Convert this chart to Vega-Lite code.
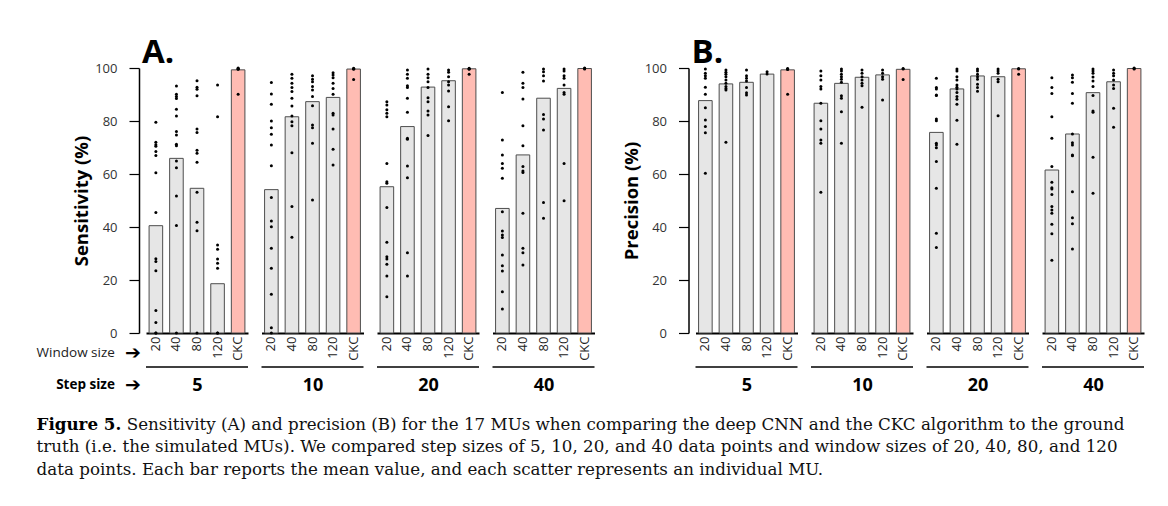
{
  "$schema": "https://vega.github.io/schema/vega-lite/v6.json",
  "background": "white",
  "padding": {"left": 36, "top": 37, "right": 5, "bottom": 5},
  "config": {
    "font": "Open Sans",
    "view": {"stroke": null},
    "axis": {"grid": false},
    "axisX": {"labelAngle": -90, "ticks": false, "domainColor": "black", "domainWidth": 2, "labelFontSize": 13, "labelColor": "#222222", "labelPadding": 3, "titleFontSize": 18, "titleFontWeight": "bold", "titleColor": "black", "titleY": 52, "titleBaseline": "middle"},
    "axisY": {"domainColor": "black", "domainWidth": 1.5, "tickColor": "black", "tickWidth": 1.2, "tickSize": 10, "labelFontSize": 13, "labelColor": "#333333", "labelPadding": 12, "titleFontSize": 18.5, "titleFontWeight": "bold", "titleColor": "black", "titlePadding": 3, "offset": 7}
  },
  "title": {
    "text": "Figure 5.",
    "subtitle": [
      "\u200b\u00a0\u00a0\u00a0\u00a0\u00a0\u00a0\u00a0\u00a0\u00a0\u00a0\u00a0\u00a0\u00a0\u00a0\u00a0\u00a0\u00a0Sensitivity (A) and precision (B) for the 17 MUs when comparing the deep CNN and the CKC algorithm to the ground",
      "truth (i.e. the simulated MUs). We compared step sizes of 5, 10, 20, and 40 data points and window sizes of 20, 40, 80, and 120",
      "data points. Each bar reports the mean value, and each scatter represents an individual MU."
    ],
    "orient": "bottom",
    "anchor": "start",
    "font": "DejaVu Serif",
    "fontSize": 16.7,
    "fontWeight": "bold",
    "color": "black",
    "subtitleFont": "DejaVu Serif",
    "subtitleFontSize": 16.7,
    "subtitleColor": "#111111",
    "subtitleLineHeight": 22.5,
    "subtitlePadding": -16.7,
    "offset": 22
  },
  "datasets": {
    "bars": [
      {"metric": "S", "step": 5, "window": "20", "value": 40.5},
      {"metric": "S", "step": 5, "window": "40", "value": 65.9},
      {"metric": "S", "step": 5, "window": "80", "value": 54.6},
      {"metric": "S", "step": 5, "window": "120", "value": 18.6},
      {"metric": "S", "step": 5, "window": "CKC", "value": 99.3},
      {"metric": "S", "step": 10, "window": "20", "value": 54.1},
      {"metric": "S", "step": 10, "window": "40", "value": 81.6},
      {"metric": "S", "step": 10, "window": "80", "value": 87.3},
      {"metric": "S", "step": 10, "window": "120", "value": 88.9},
      {"metric": "S", "step": 10, "window": "CKC", "value": 99.6},
      {"metric": "S", "step": 20, "window": "20", "value": 55.2},
      {"metric": "S", "step": 20, "window": "40", "value": 77.9},
      {"metric": "S", "step": 20, "window": "80", "value": 92.8},
      {"metric": "S", "step": 20, "window": "120", "value": 95.2},
      {"metric": "S", "step": 20, "window": "CKC", "value": 99.7},
      {"metric": "S", "step": 40, "window": "20", "value": 47.0},
      {"metric": "S", "step": 40, "window": "40", "value": 67.2},
      {"metric": "S", "step": 40, "window": "80", "value": 88.6},
      {"metric": "S", "step": 40, "window": "120", "value": 92.3},
      {"metric": "S", "step": 40, "window": "CKC", "value": 99.8},
      {"metric": "P", "step": 5, "window": "20", "value": 87.7},
      {"metric": "P", "step": 5, "window": "40", "value": 94.0},
      {"metric": "P", "step": 5, "window": "80", "value": 94.6},
      {"metric": "P", "step": 5, "window": "120", "value": 97.7},
      {"metric": "P", "step": 5, "window": "CKC", "value": 99.3},
      {"metric": "P", "step": 10, "window": "20", "value": 86.7},
      {"metric": "P", "step": 10, "window": "40", "value": 94.2},
      {"metric": "P", "step": 10, "window": "80", "value": 96.5},
      {"metric": "P", "step": 10, "window": "120", "value": 97.4},
      {"metric": "P", "step": 10, "window": "CKC", "value": 99.5},
      {"metric": "P", "step": 20, "window": "20", "value": 75.7},
      {"metric": "P", "step": 20, "window": "40", "value": 92.1},
      {"metric": "P", "step": 20, "window": "80", "value": 97.0},
      {"metric": "P", "step": 20, "window": "120", "value": 96.7},
      {"metric": "P", "step": 20, "window": "CKC", "value": 99.7},
      {"metric": "P", "step": 40, "window": "20", "value": 61.5},
      {"metric": "P", "step": 40, "window": "40", "value": 75.1},
      {"metric": "P", "step": 40, "window": "80", "value": 90.7},
      {"metric": "P", "step": 40, "window": "120", "value": 94.8},
      {"metric": "P", "step": 40, "window": "CKC", "value": 99.8}
    ],
    "pts": [
      {"metric":"S","step":5,"window":"20","value":79.5},{"metric":"S","step":5,"window":"20","value":72},{"metric":"S","step":5,"window":"20","value":71},{"metric":"S","step":5,"window":"20","value":70.5},{"metric":"S","step":5,"window":"20","value":68.5},{"metric":"S","step":5,"window":"20","value":67},{"metric":"S","step":5,"window":"20","value":60.5},{"metric":"S","step":5,"window":"20","value":45.5},{"metric":"S","step":5,"window":"20","value":28},{"metric":"S","step":5,"window":"20","value":27},{"metric":"S","step":5,"window":"20","value":23.5},{"metric":"S","step":5,"window":"20","value":8.5},{"metric":"S","step":5,"window":"20","value":4},{"metric":"S","step":5,"window":"20","value":0},{"metric":"S","step":5,"window":"20","value":0},
      {"metric":"S","step":5,"window":"40","value":93.2},{"metric":"S","step":5,"window":"40","value":90.1},{"metric":"S","step":5,"window":"40","value":89.2},{"metric":"S","step":5,"window":"40","value":88.5},{"metric":"S","step":5,"window":"40","value":84.4},{"metric":"S","step":5,"window":"40","value":81.9},{"metric":"S","step":5,"window":"40","value":76},{"metric":"S","step":5,"window":"40","value":74.7},{"metric":"S","step":5,"window":"40","value":71.2},{"metric":"S","step":5,"window":"40","value":70.7},{"metric":"S","step":5,"window":"40","value":64.9},{"metric":"S","step":5,"window":"40","value":62.4},{"metric":"S","step":5,"window":"40","value":51.7},{"metric":"S","step":5,"window":"40","value":40.6},{"metric":"S","step":5,"window":"40","value":0},
      {"metric":"S","step":5,"window":"80","value":95.2},{"metric":"S","step":5,"window":"80","value":92.7},{"metric":"S","step":5,"window":"80","value":92},{"metric":"S","step":5,"window":"80","value":89.5},{"metric":"S","step":5,"window":"80","value":77},{"metric":"S","step":5,"window":"80","value":75.7},{"metric":"S","step":5,"window":"80","value":69},{"metric":"S","step":5,"window":"80","value":67.8},{"metric":"S","step":5,"window":"80","value":64.4},{"metric":"S","step":5,"window":"80","value":53.1},{"metric":"S","step":5,"window":"80","value":41.8},{"metric":"S","step":5,"window":"80","value":38.6},{"metric":"S","step":5,"window":"80","value":0},
      {"metric":"S","step":5,"window":"120","value":93.6},{"metric":"S","step":5,"window":"120","value":81.6},{"metric":"S","step":5,"window":"120","value":33.2},{"metric":"S","step":5,"window":"120","value":31.6},{"metric":"S","step":5,"window":"120","value":27.9},{"metric":"S","step":5,"window":"120","value":26.3},{"metric":"S","step":5,"window":"120","value":24.4},{"metric":"S","step":5,"window":"120","value":0},{"metric":"S","step":5,"window":"120","value":0},
      {"metric":"S","step":5,"window":"CKC","value":100},{"metric":"S","step":5,"window":"CKC","value":99.8},{"metric":"S","step":5,"window":"CKC","value":99.6},{"metric":"S","step":5,"window":"CKC","value":99.5},{"metric":"S","step":5,"window":"CKC","value":90.1},
      {"metric":"S","step":10,"window":"20","value":94.5},{"metric":"S","step":10,"window":"20","value":90.2},{"metric":"S","step":10,"window":"20","value":86.3},{"metric":"S","step":10,"window":"20","value":80},{"metric":"S","step":10,"window":"20","value":77.5},{"metric":"S","step":10,"window":"20","value":75},{"metric":"S","step":10,"window":"20","value":70.9},{"metric":"S","step":10,"window":"20","value":63.1},{"metric":"S","step":10,"window":"20","value":51.1},{"metric":"S","step":10,"window":"20","value":42.3},{"metric":"S","step":10,"window":"20","value":40.1},{"metric":"S","step":10,"window":"20","value":32},{"metric":"S","step":10,"window":"20","value":24.4},{"metric":"S","step":10,"window":"20","value":14.6},{"metric":"S","step":10,"window":"20","value":2},{"metric":"S","step":10,"window":"20","value":0},
      {"metric":"S","step":10,"window":"40","value":97.6},{"metric":"S","step":10,"window":"40","value":96.1},{"metric":"S","step":10,"window":"40","value":94.2},{"metric":"S","step":10,"window":"40","value":92.6},{"metric":"S","step":10,"window":"40","value":91.1},{"metric":"S","step":10,"window":"40","value":88.6},{"metric":"S","step":10,"window":"40","value":85.7},{"metric":"S","step":10,"window":"40","value":81.9},{"metric":"S","step":10,"window":"40","value":79.7},{"metric":"S","step":10,"window":"40","value":78.2},{"metric":"S","step":10,"window":"40","value":68},{"metric":"S","step":10,"window":"40","value":47.7},{"metric":"S","step":10,"window":"40","value":36.1},
      {"metric":"S","step":10,"window":"80","value":97.1},{"metric":"S","step":10,"window":"80","value":95.8},{"metric":"S","step":10,"window":"80","value":94.8},{"metric":"S","step":10,"window":"80","value":93},{"metric":"S","step":10,"window":"80","value":91.7},{"metric":"S","step":10,"window":"80","value":89.2},{"metric":"S","step":10,"window":"80","value":85.8},{"metric":"S","step":10,"window":"80","value":78.5},{"metric":"S","step":10,"window":"80","value":77.5},{"metric":"S","step":10,"window":"80","value":71.6},{"metric":"S","step":10,"window":"80","value":50.2},
      {"metric":"S","step":10,"window":"120","value":98.2},{"metric":"S","step":10,"window":"120","value":97.4},{"metric":"S","step":10,"window":"120","value":96.3},{"metric":"S","step":10,"window":"120","value":94.2},{"metric":"S","step":10,"window":"120","value":92.3},{"metric":"S","step":10,"window":"120","value":90.1},{"metric":"S","step":10,"window":"120","value":82.9},{"metric":"S","step":10,"window":"120","value":82.3},{"metric":"S","step":10,"window":"120","value":77},{"metric":"S","step":10,"window":"120","value":69.3},{"metric":"S","step":10,"window":"120","value":63.4},
      {"metric":"S","step":10,"window":"CKC","value":99.9},{"metric":"S","step":10,"window":"CKC","value":99.7},{"metric":"S","step":10,"window":"CKC","value":99.5},{"metric":"S","step":10,"window":"CKC","value":95.7},
      {"metric":"S","step":20,"window":"20","value":87.3},{"metric":"S","step":20,"window":"20","value":86},{"metric":"S","step":20,"window":"20","value":84.2},{"metric":"S","step":20,"window":"20","value":82.9},{"metric":"S","step":20,"window":"20","value":81.6},{"metric":"S","step":20,"window":"20","value":64},{"metric":"S","step":20,"window":"20","value":57.1},{"metric":"S","step":20,"window":"20","value":56.5},{"metric":"S","step":20,"window":"20","value":47.4},{"metric":"S","step":20,"window":"20","value":34.2},{"metric":"S","step":20,"window":"20","value":28.8},{"metric":"S","step":20,"window":"20","value":27.9},{"metric":"S","step":20,"window":"20","value":25.9},{"metric":"S","step":20,"window":"20","value":21.5},{"metric":"S","step":20,"window":"20","value":13.7},
      {"metric":"S","step":20,"window":"40","value":99.2},{"metric":"S","step":20,"window":"40","value":97.6},{"metric":"S","step":20,"window":"40","value":96.1},{"metric":"S","step":20,"window":"40","value":93.3},{"metric":"S","step":20,"window":"40","value":92.6},{"metric":"S","step":20,"window":"40","value":88.6},{"metric":"S","step":20,"window":"40","value":83.3},{"metric":"S","step":20,"window":"40","value":73.5},{"metric":"S","step":20,"window":"40","value":73.1},{"metric":"S","step":20,"window":"40","value":63},{"metric":"S","step":20,"window":"40","value":58.6},{"metric":"S","step":20,"window":"40","value":30.3},{"metric":"S","step":20,"window":"40","value":21.5},
      {"metric":"S","step":20,"window":"80","value":99.6},{"metric":"S","step":20,"window":"80","value":97.6},{"metric":"S","step":20,"window":"80","value":96.3},{"metric":"S","step":20,"window":"80","value":94.8},{"metric":"S","step":20,"window":"80","value":92.6},{"metric":"S","step":20,"window":"80","value":88.8},{"metric":"S","step":20,"window":"80","value":87.3},{"metric":"S","step":20,"window":"80","value":83.8},{"metric":"S","step":20,"window":"80","value":82.3},{"metric":"S","step":20,"window":"80","value":74.5},
      {"metric":"S","step":20,"window":"120","value":99.2},{"metric":"S","step":20,"window":"120","value":98.4},{"metric":"S","step":20,"window":"120","value":96.7},{"metric":"S","step":20,"window":"120","value":94.8},{"metric":"S","step":20,"window":"120","value":93.6},{"metric":"S","step":20,"window":"120","value":91.3},{"metric":"S","step":20,"window":"120","value":85.4},{"metric":"S","step":20,"window":"120","value":80.1},
      {"metric":"S","step":20,"window":"CKC","value":99.9},{"metric":"S","step":20,"window":"CKC","value":99.7},{"metric":"S","step":20,"window":"CKC","value":99.5},{"metric":"S","step":20,"window":"CKC","value":97.6},
      {"metric":"S","step":40,"window":"20","value":90.8},{"metric":"S","step":40,"window":"20","value":72.8},{"metric":"S","step":40,"window":"20","value":67.2},{"metric":"S","step":40,"window":"20","value":64},{"metric":"S","step":40,"window":"20","value":62.2},{"metric":"S","step":40,"window":"20","value":58.4},{"metric":"S","step":40,"window":"20","value":45.8},{"metric":"S","step":40,"window":"20","value":38.5},{"metric":"S","step":40,"window":"20","value":37},{"metric":"S","step":40,"window":"20","value":36},{"metric":"S","step":40,"window":"20","value":29.4},{"metric":"S","step":40,"window":"20","value":25.4},{"metric":"S","step":40,"window":"20","value":23.4},{"metric":"S","step":40,"window":"20","value":15.6},{"metric":"S","step":40,"window":"20","value":9.1},
      {"metric":"S","step":40,"window":"40","value":98.4},{"metric":"S","step":40,"window":"40","value":94.2},{"metric":"S","step":40,"window":"40","value":92.6},{"metric":"S","step":40,"window":"40","value":88.3},{"metric":"S","step":40,"window":"40","value":78.2},{"metric":"S","step":40,"window":"40","value":70.7},{"metric":"S","step":40,"window":"40","value":62.8},{"metric":"S","step":40,"window":"40","value":61.1},{"metric":"S","step":40,"window":"40","value":60.6},{"metric":"S","step":40,"window":"40","value":45.2},{"metric":"S","step":40,"window":"40","value":32},{"metric":"S","step":40,"window":"40","value":30.3},{"metric":"S","step":40,"window":"40","value":25.7},
      {"metric":"S","step":40,"window":"80","value":99.6},{"metric":"S","step":40,"window":"80","value":98.6},{"metric":"S","step":40,"window":"80","value":97.1},{"metric":"S","step":40,"window":"80","value":95.1},{"metric":"S","step":40,"window":"80","value":82.5},{"metric":"S","step":40,"window":"80","value":80.8},{"metric":"S","step":40,"window":"80","value":76.6},{"metric":"S","step":40,"window":"80","value":49.2},{"metric":"S","step":40,"window":"80","value":43.3},
      {"metric":"S","step":40,"window":"120","value":99.6},{"metric":"S","step":40,"window":"120","value":98.9},{"metric":"S","step":40,"window":"120","value":97.1},{"metric":"S","step":40,"window":"120","value":96.1},{"metric":"S","step":40,"window":"120","value":93.6},{"metric":"S","step":40,"window":"120","value":90.8},{"metric":"S","step":40,"window":"120","value":90.1},{"metric":"S","step":40,"window":"120","value":64},{"metric":"S","step":40,"window":"120","value":49.9},
      {"metric":"S","step":40,"window":"CKC","value":100},{"metric":"S","step":40,"window":"CKC","value":99.8},{"metric":"S","step":40,"window":"CKC","value":99.6},
      {"metric":"P","step":5,"window":"20","value":99.6},{"metric":"P","step":5,"window":"20","value":98},{"metric":"P","step":5,"window":"20","value":97.1},{"metric":"P","step":5,"window":"20","value":96.1},{"metric":"P","step":5,"window":"20","value":92.7},{"metric":"P","step":5,"window":"20","value":90.1},{"metric":"P","step":5,"window":"20","value":85},{"metric":"P","step":5,"window":"20","value":80.4},{"metric":"P","step":5,"window":"20","value":77.9},{"metric":"P","step":5,"window":"20","value":75.6},{"metric":"P","step":5,"window":"20","value":60.3},
      {"metric":"P","step":5,"window":"40","value":99.2},{"metric":"P","step":5,"window":"40","value":98.4},{"metric":"P","step":5,"window":"40","value":97.6},{"metric":"P","step":5,"window":"40","value":96.7},{"metric":"P","step":5,"window":"40","value":95.5},{"metric":"P","step":5,"window":"40","value":94.2},{"metric":"P","step":5,"window":"40","value":93},{"metric":"P","step":5,"window":"40","value":92.3},{"metric":"P","step":5,"window":"40","value":91.7},{"metric":"P","step":5,"window":"40","value":72},
      {"metric":"P","step":5,"window":"80","value":99.2},{"metric":"P","step":5,"window":"80","value":97.1},{"metric":"P","step":5,"window":"80","value":96.1},{"metric":"P","step":5,"window":"80","value":95.1},{"metric":"P","step":5,"window":"80","value":92.6},{"metric":"P","step":5,"window":"80","value":90.7},{"metric":"P","step":5,"window":"80","value":89.8},
      {"metric":"P","step":5,"window":"120","value":98.6},{"metric":"P","step":5,"window":"120","value":97.7},
      {"metric":"P","step":5,"window":"CKC","value":99.8},{"metric":"P","step":5,"window":"CKC","value":99.6},{"metric":"P","step":5,"window":"CKC","value":99.4},{"metric":"P","step":5,"window":"CKC","value":90.1},
      {"metric":"P","step":10,"window":"20","value":98.9},{"metric":"P","step":10,"window":"20","value":97.1},{"metric":"P","step":10,"window":"20","value":95.5},{"metric":"P","step":10,"window":"20","value":93},{"metric":"P","step":10,"window":"20","value":92.1},{"metric":"P","step":10,"window":"20","value":86.7},{"metric":"P","step":10,"window":"20","value":80.1},{"metric":"P","step":10,"window":"20","value":77},{"metric":"P","step":10,"window":"20","value":72.8},{"metric":"P","step":10,"window":"20","value":71.6},{"metric":"P","step":10,"window":"20","value":53.1},
      {"metric":"P","step":10,"window":"40","value":99.6},{"metric":"P","step":10,"window":"40","value":98.9},{"metric":"P","step":10,"window":"40","value":97.6},{"metric":"P","step":10,"window":"40","value":96.7},{"metric":"P","step":10,"window":"40","value":95.8},{"metric":"P","step":10,"window":"40","value":94.6},{"metric":"P","step":10,"window":"40","value":89.5},{"metric":"P","step":10,"window":"40","value":88.6},{"metric":"P","step":10,"window":"40","value":83.5},{"metric":"P","step":10,"window":"40","value":71.6},
      {"metric":"P","step":10,"window":"80","value":99.2},{"metric":"P","step":10,"window":"80","value":98},{"metric":"P","step":10,"window":"80","value":96.7},{"metric":"P","step":10,"window":"80","value":95.5},{"metric":"P","step":10,"window":"80","value":94.2},{"metric":"P","step":10,"window":"80","value":93.3},{"metric":"P","step":10,"window":"80","value":85.2},
      {"metric":"P","step":10,"window":"120","value":99.2},{"metric":"P","step":10,"window":"120","value":98},{"metric":"P","step":10,"window":"120","value":96.7},{"metric":"P","step":10,"window":"120","value":95.8},{"metric":"P","step":10,"window":"120","value":87.9},
      {"metric":"P","step":10,"window":"CKC","value":99.8},{"metric":"P","step":10,"window":"CKC","value":99.6},{"metric":"P","step":10,"window":"CKC","value":95.7},
      {"metric":"P","step":20,"window":"20","value":96.1},{"metric":"P","step":20,"window":"20","value":92.6},{"metric":"P","step":20,"window":"20","value":92.1},{"metric":"P","step":20,"window":"20","value":89.8},{"metric":"P","step":20,"window":"20","value":89.6},{"metric":"P","step":20,"window":"20","value":80.8},{"metric":"P","step":20,"window":"20","value":80.1},{"metric":"P","step":20,"window":"20","value":71.6},{"metric":"P","step":20,"window":"20","value":70.9},{"metric":"P","step":20,"window":"20","value":69.9},{"metric":"P","step":20,"window":"20","value":64.7},{"metric":"P","step":20,"window":"20","value":54.6},{"metric":"P","step":20,"window":"20","value":37.6},{"metric":"P","step":20,"window":"20","value":32.3},
      {"metric":"P","step":20,"window":"40","value":99.6},{"metric":"P","step":20,"window":"40","value":98.9},{"metric":"P","step":20,"window":"40","value":96.7},{"metric":"P","step":20,"window":"40","value":95.5},{"metric":"P","step":20,"window":"40","value":93.6},{"metric":"P","step":20,"window":"40","value":92.7},{"metric":"P","step":20,"window":"40","value":92.1},{"metric":"P","step":20,"window":"40","value":90.8},{"metric":"P","step":20,"window":"40","value":89.2},{"metric":"P","step":20,"window":"40","value":88.2},{"metric":"P","step":20,"window":"40","value":86.3},{"metric":"P","step":20,"window":"40","value":80.3},{"metric":"P","step":20,"window":"40","value":71.2},
      {"metric":"P","step":20,"window":"80","value":99.6},{"metric":"P","step":20,"window":"80","value":98.9},{"metric":"P","step":20,"window":"80","value":97.6},{"metric":"P","step":20,"window":"80","value":96.7},{"metric":"P","step":20,"window":"80","value":95.8},{"metric":"P","step":20,"window":"80","value":93.9},{"metric":"P","step":20,"window":"80","value":92.6},{"metric":"P","step":20,"window":"80","value":91.2},
      {"metric":"P","step":20,"window":"120","value":99.6},{"metric":"P","step":20,"window":"120","value":98.9},{"metric":"P","step":20,"window":"120","value":98},{"metric":"P","step":20,"window":"120","value":95.8},{"metric":"P","step":20,"window":"120","value":94.8},{"metric":"P","step":20,"window":"120","value":82},
      {"metric":"P","step":20,"window":"CKC","value":99.8},{"metric":"P","step":20,"window":"CKC","value":99.6},{"metric":"P","step":20,"window":"CKC","value":97.6},
      {"metric":"P","step":40,"window":"20","value":96.3},{"metric":"P","step":40,"window":"20","value":92.6},{"metric":"P","step":40,"window":"20","value":90.4},{"metric":"P","step":40,"window":"20","value":81.6},{"metric":"P","step":40,"window":"20","value":73.5},{"metric":"P","step":40,"window":"20","value":62.8},{"metric":"P","step":40,"window":"20","value":56.9},{"metric":"P","step":40,"window":"20","value":54.8},{"metric":"P","step":40,"window":"20","value":54.3},{"metric":"P","step":40,"window":"20","value":52.3},{"metric":"P","step":40,"window":"20","value":47.7},{"metric":"P","step":40,"window":"20","value":46.4},{"metric":"P","step":40,"window":"20","value":45.2},{"metric":"P","step":40,"window":"20","value":41},{"metric":"P","step":40,"window":"20","value":37.5},{"metric":"P","step":40,"window":"20","value":27.5},
      {"metric":"P","step":40,"window":"40","value":97.4},{"metric":"P","step":40,"window":"40","value":96.3},{"metric":"P","step":40,"window":"40","value":94.6},{"metric":"P","step":40,"window":"40","value":90.4},{"metric":"P","step":40,"window":"40","value":86.7},{"metric":"P","step":40,"window":"40","value":75.1},{"metric":"P","step":40,"window":"40","value":71.8},{"metric":"P","step":40,"window":"40","value":70.9},{"metric":"P","step":40,"window":"40","value":67.2},{"metric":"P","step":40,"window":"40","value":66.9},{"metric":"P","step":40,"window":"40","value":53.3},{"metric":"P","step":40,"window":"40","value":43.5},{"metric":"P","step":40,"window":"40","value":41.2},{"metric":"P","step":40,"window":"40","value":31.7},
      {"metric":"P","step":40,"window":"80","value":99.6},{"metric":"P","step":40,"window":"80","value":98.9},{"metric":"P","step":40,"window":"80","value":98},{"metric":"P","step":40,"window":"80","value":96.6},{"metric":"P","step":40,"window":"80","value":95.1},{"metric":"P","step":40,"window":"80","value":93},{"metric":"P","step":40,"window":"80","value":89.6},{"metric":"P","step":40,"window":"80","value":83.8},{"metric":"P","step":40,"window":"80","value":83.3},{"metric":"P","step":40,"window":"80","value":66.3},{"metric":"P","step":40,"window":"80","value":52.7},
      {"metric":"P","step":40,"window":"120","value":99.2},{"metric":"P","step":40,"window":"120","value":98},{"metric":"P","step":40,"window":"120","value":97.1},{"metric":"P","step":40,"window":"120","value":95.5},{"metric":"P","step":40,"window":"120","value":93.6},{"metric":"P","step":40,"window":"120","value":92.3},{"metric":"P","step":40,"window":"120","value":84.8},{"metric":"P","step":40,"window":"120","value":77.6},
      {"metric":"P","step":40,"window":"CKC","value":100},{"metric":"P","step":40,"window":"CKC","value":99.8},{"metric":"P","step":40,"window":"CKC","value":99.6}
    ]
  },
  "spacing": 25.5,
  "hconcat": [
    {
      "spacing": 11.5,
      "hconcat": [
        {
          "width": 102, "height": 265,
          "title": {"text": "A.", "fontSize": 33, "fontWeight": "bold", "anchor": "start", "frame": "group", "offset": -8, "dx": -4, "color": "black"},
          "layer": [
            {"data": {"name": "bars"}, "transform": [{"filter": "datum.metric == 'S' && datum.step == 5"}],
             "mark": {"type": "bar", "stroke": "#4d4d4d", "strokeWidth": 1},
             "encoding": {
               "x": {"field": "window", "type": "nominal", "scale": {"domain": ["20", "40", "80", "120", "CKC"], "paddingInner": 0.34, "paddingOuter": 0.15}, "axis": {"title": "5"}},
               "y": {"field": "value", "type": "quantitative", "scale": {"domain": [0, 100]}, "axis": {"title": "Sensitivity (%)", "values": [0, 10, 20, 30, 40, 50, 60, 70, 80, 90, 100], "labelExpr": "datum.value % 20 == 0 ? datum.label : ''"}},
               "color": {"field": "window", "type": "nominal", "scale": {"domain": ["20", "40", "80", "120", "CKC"], "range": ["#e6e6e6", "#e6e6e6", "#e6e6e6", "#e6e6e6", "#ffbcb3"]}, "legend": null}
             }},
            {"data": {"name": "pts"}, "transform": [{"filter": "datum.metric == 'S' && datum.step == 5"}],
             "mark": {"type": "circle", "size": 9, "color": "black", "opacity": 1},
             "encoding": {"x": {"field": "window", "type": "nominal"}, "y": {"field": "value", "type": "quantitative"}}},
            {"data": {"values": [{}]}, "mark": {"type": "rule", "color": "black", "strokeWidth": 1.5}, "encoding": {"y": {"datum": -12.8}}},
            {"data": {"values": [{"label": "Window size"}]}, "mark": {"type": "text", "align": "right", "baseline": "middle", "dx": -41, "fontSize": 13.5, "color": "#222222"},
             "encoding": {"x": {"datum": "20"}, "y": {"datum": -7.5}, "text": {"field": "label"}}},
            {"data": {"values": [{"label": "Step size"}]}, "mark": {"type": "text", "align": "right", "baseline": "middle", "dx": -41, "fontSize": 13.5, "fontWeight": "bold", "color": "black"},
             "encoding": {"x": {"datum": "20"}, "y": {"datum": -19.6}, "text": {"field": "label"}}},
            {"data": {"values": [{"label": "➔"}]}, "mark": {"type": "text", "align": "right", "baseline": "middle", "dx": -15, "fontSize": 19, "font": "DejaVu Sans", "color": "black"},
             "encoding": {"x": {"datum": "20"}, "y": {"datum": -7.5}, "text": {"field": "label"}}},
            {"data": {"values": [{"label": "➔"}]}, "mark": {"type": "text", "align": "right", "baseline": "middle", "dx": -15, "fontSize": 19, "font": "DejaVu Sans", "color": "black"},
             "encoding": {"x": {"datum": "20"}, "y": {"datum": -19.6}, "text": {"field": "label"}}}
          ]
        },
        {
          "width": 102, "height": 265,
          "layer": [
            {"data": {"name": "bars"}, "transform": [{"filter": "datum.metric == 'S' && datum.step == 10"}],
             "mark": {"type": "bar", "stroke": "#4d4d4d", "strokeWidth": 1},
             "encoding": {
               "x": {"field": "window", "type": "nominal", "scale": {"domain": ["20", "40", "80", "120", "CKC"], "paddingInner": 0.34, "paddingOuter": 0.15}, "axis": {"title": "10"}},
               "y": {"field": "value", "type": "quantitative", "scale": {"domain": [0, 100]}, "axis": null},
               "color": {"field": "window", "type": "nominal", "scale": {"domain": ["20", "40", "80", "120", "CKC"], "range": ["#e6e6e6", "#e6e6e6", "#e6e6e6", "#e6e6e6", "#ffbcb3"]}, "legend": null}
             }},
            {"data": {"name": "pts"}, "transform": [{"filter": "datum.metric == 'S' && datum.step == 10"}],
             "mark": {"type": "circle", "size": 9, "color": "black", "opacity": 1},
             "encoding": {"x": {"field": "window", "type": "nominal"}, "y": {"field": "value", "type": "quantitative", "axis": null}}},
            {"data": {"values": [{}]}, "mark": {"type": "rule", "color": "black", "strokeWidth": 1.5}, "encoding": {"y": {"datum": -12.8, "axis": null}}}
          ]
        },
        {
          "width": 102, "height": 265,
          "layer": [
            {"data": {"name": "bars"}, "transform": [{"filter": "datum.metric == 'S' && datum.step == 20"}],
             "mark": {"type": "bar", "stroke": "#4d4d4d", "strokeWidth": 1},
             "encoding": {
               "x": {"field": "window", "type": "nominal", "scale": {"domain": ["20", "40", "80", "120", "CKC"], "paddingInner": 0.34, "paddingOuter": 0.15}, "axis": {"title": "20"}},
               "y": {"field": "value", "type": "quantitative", "scale": {"domain": [0, 100]}, "axis": null},
               "color": {"field": "window", "type": "nominal", "scale": {"domain": ["20", "40", "80", "120", "CKC"], "range": ["#e6e6e6", "#e6e6e6", "#e6e6e6", "#e6e6e6", "#ffbcb3"]}, "legend": null}
             }},
            {"data": {"name": "pts"}, "transform": [{"filter": "datum.metric == 'S' && datum.step == 20"}],
             "mark": {"type": "circle", "size": 9, "color": "black", "opacity": 1},
             "encoding": {"x": {"field": "window", "type": "nominal"}, "y": {"field": "value", "type": "quantitative", "axis": null}}},
            {"data": {"values": [{}]}, "mark": {"type": "rule", "color": "black", "strokeWidth": 1.5}, "encoding": {"y": {"datum": -12.8, "axis": null}}}
          ]
        },
        {
          "width": 102, "height": 265,
          "layer": [
            {"data": {"name": "bars"}, "transform": [{"filter": "datum.metric == 'S' && datum.step == 40"}],
             "mark": {"type": "bar", "stroke": "#4d4d4d", "strokeWidth": 1},
             "encoding": {
               "x": {"field": "window", "type": "nominal", "scale": {"domain": ["20", "40", "80", "120", "CKC"], "paddingInner": 0.34, "paddingOuter": 0.15}, "axis": {"title": "40"}},
               "y": {"field": "value", "type": "quantitative", "scale": {"domain": [0, 100]}, "axis": null},
               "color": {"field": "window", "type": "nominal", "scale": {"domain": ["20", "40", "80", "120", "CKC"], "range": ["#e6e6e6", "#e6e6e6", "#e6e6e6", "#e6e6e6", "#ffbcb3"]}, "legend": null}
             }},
            {"data": {"name": "pts"}, "transform": [{"filter": "datum.metric == 'S' && datum.step == 40"}],
             "mark": {"type": "circle", "size": 9, "color": "black", "opacity": 1},
             "encoding": {"x": {"field": "window", "type": "nominal"}, "y": {"field": "value", "type": "quantitative", "axis": null}}},
            {"data": {"values": [{}]}, "mark": {"type": "rule", "color": "black", "strokeWidth": 1.5}, "encoding": {"y": {"datum": -12.8, "axis": null}}}
          ]
        }
      ]
    },
    {
      "spacing": 11.5,
      "hconcat": [
        {
          "width": 102, "height": 265,
          "title": {"text": "B.", "fontSize": 33, "fontWeight": "bold", "anchor": "start", "frame": "group", "offset": -8, "dx": -4, "color": "black"},
          "layer": [
            {"data": {"name": "bars"}, "transform": [{"filter": "datum.metric == 'P' && datum.step == 5"}],
             "mark": {"type": "bar", "stroke": "#4d4d4d", "strokeWidth": 1},
             "encoding": {
               "x": {"field": "window", "type": "nominal", "scale": {"domain": ["20", "40", "80", "120", "CKC"], "paddingInner": 0.34, "paddingOuter": 0.15}, "axis": {"title": "5"}},
               "y": {"field": "value", "type": "quantitative", "scale": {"domain": [0, 100]}, "axis": {"title": "Precision (%)", "values": [0, 10, 20, 30, 40, 50, 60, 70, 80, 90, 100], "labelExpr": "datum.value % 20 == 0 ? datum.label : ''"}},
               "color": {"field": "window", "type": "nominal", "scale": {"domain": ["20", "40", "80", "120", "CKC"], "range": ["#e6e6e6", "#e6e6e6", "#e6e6e6", "#e6e6e6", "#ffbcb3"]}, "legend": null}
             }},
            {"data": {"name": "pts"}, "transform": [{"filter": "datum.metric == 'P' && datum.step == 5"}],
             "mark": {"type": "circle", "size": 9, "color": "black", "opacity": 1},
             "encoding": {"x": {"field": "window", "type": "nominal"}, "y": {"field": "value", "type": "quantitative"}}},
            {"data": {"values": [{}]}, "mark": {"type": "rule", "color": "black", "strokeWidth": 1.5}, "encoding": {"y": {"datum": -12.8}}}
          ]
        },
        {
          "width": 102, "height": 265,
          "layer": [
            {"data": {"name": "bars"}, "transform": [{"filter": "datum.metric == 'P' && datum.step == 10"}],
             "mark": {"type": "bar", "stroke": "#4d4d4d", "strokeWidth": 1},
             "encoding": {
               "x": {"field": "window", "type": "nominal", "scale": {"domain": ["20", "40", "80", "120", "CKC"], "paddingInner": 0.34, "paddingOuter": 0.15}, "axis": {"title": "10"}},
               "y": {"field": "value", "type": "quantitative", "scale": {"domain": [0, 100]}, "axis": null},
               "color": {"field": "window", "type": "nominal", "scale": {"domain": ["20", "40", "80", "120", "CKC"], "range": ["#e6e6e6", "#e6e6e6", "#e6e6e6", "#e6e6e6", "#ffbcb3"]}, "legend": null}
             }},
            {"data": {"name": "pts"}, "transform": [{"filter": "datum.metric == 'P' && datum.step == 10"}],
             "mark": {"type": "circle", "size": 9, "color": "black", "opacity": 1},
             "encoding": {"x": {"field": "window", "type": "nominal"}, "y": {"field": "value", "type": "quantitative", "axis": null}}},
            {"data": {"values": [{}]}, "mark": {"type": "rule", "color": "black", "strokeWidth": 1.5}, "encoding": {"y": {"datum": -12.8, "axis": null}}}
          ]
        },
        {
          "width": 102, "height": 265,
          "layer": [
            {"data": {"name": "bars"}, "transform": [{"filter": "datum.metric == 'P' && datum.step == 20"}],
             "mark": {"type": "bar", "stroke": "#4d4d4d", "strokeWidth": 1},
             "encoding": {
               "x": {"field": "window", "type": "nominal", "scale": {"domain": ["20", "40", "80", "120", "CKC"], "paddingInner": 0.34, "paddingOuter": 0.15}, "axis": {"title": "20"}},
               "y": {"field": "value", "type": "quantitative", "scale": {"domain": [0, 100]}, "axis": null},
               "color": {"field": "window", "type": "nominal", "scale": {"domain": ["20", "40", "80", "120", "CKC"], "range": ["#e6e6e6", "#e6e6e6", "#e6e6e6", "#e6e6e6", "#ffbcb3"]}, "legend": null}
             }},
            {"data": {"name": "pts"}, "transform": [{"filter": "datum.metric == 'P' && datum.step == 20"}],
             "mark": {"type": "circle", "size": 9, "color": "black", "opacity": 1},
             "encoding": {"x": {"field": "window", "type": "nominal"}, "y": {"field": "value", "type": "quantitative", "axis": null}}},
            {"data": {"values": [{}]}, "mark": {"type": "rule", "color": "black", "strokeWidth": 1.5}, "encoding": {"y": {"datum": -12.8, "axis": null}}}
          ]
        },
        {
          "width": 102, "height": 265,
          "layer": [
            {"data": {"name": "bars"}, "transform": [{"filter": "datum.metric == 'P' && datum.step == 40"}],
             "mark": {"type": "bar", "stroke": "#4d4d4d", "strokeWidth": 1},
             "encoding": {
               "x": {"field": "window", "type": "nominal", "scale": {"domain": ["20", "40", "80", "120", "CKC"], "paddingInner": 0.34, "paddingOuter": 0.15}, "axis": {"title": "40"}},
               "y": {"field": "value", "type": "quantitative", "scale": {"domain": [0, 100]}, "axis": null},
               "color": {"field": "window", "type": "nominal", "scale": {"domain": ["20", "40", "80", "120", "CKC"], "range": ["#e6e6e6", "#e6e6e6", "#e6e6e6", "#e6e6e6", "#ffbcb3"]}, "legend": null}
             }},
            {"data": {"name": "pts"}, "transform": [{"filter": "datum.metric == 'P' && datum.step == 40"}],
             "mark": {"type": "circle", "size": 9, "color": "black", "opacity": 1},
             "encoding": {"x": {"field": "window", "type": "nominal"}, "y": {"field": "value", "type": "quantitative", "axis": null}}},
            {"data": {"values": [{}]}, "mark": {"type": "rule", "color": "black", "strokeWidth": 1.5}, "encoding": {"y": {"datum": -12.8, "axis": null}}}
          ]
        }
      ]
    }
  ]
}
